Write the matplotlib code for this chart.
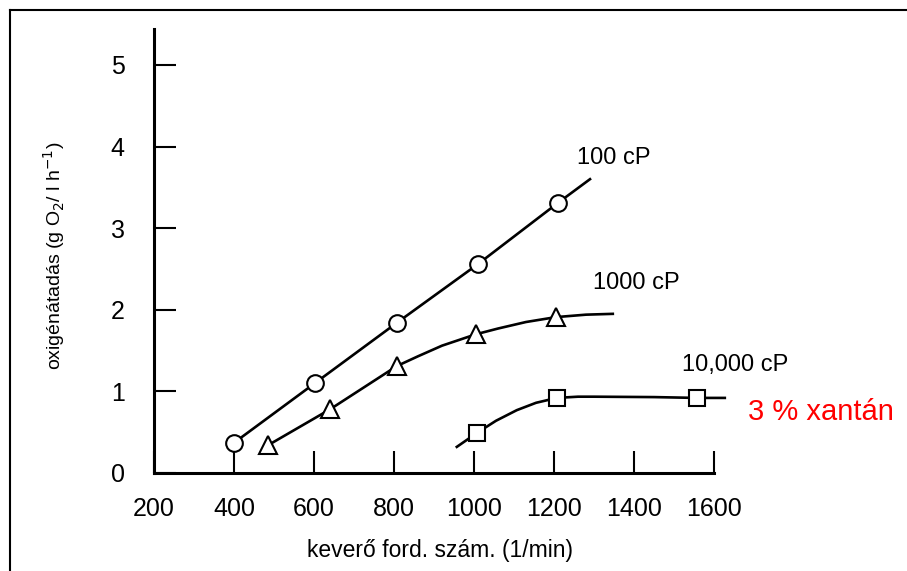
import matplotlib.pyplot as plt
from matplotlib.lines import Line2D

plt.rcParams['font.family'] = ['Liberation Sans', 'DejaVu Sans']

# measured points (keverő fordulatszám, oxigénátadás)
rpm_100 = [400, 602, 807, 1010, 1210]
otr_100 = [0.37, 1.10, 1.84, 2.56, 3.31]
line_rpm_100 = [400, 602, 807, 1010, 1210, 1290]
line_otr_100 = [0.37, 1.10, 1.84, 2.56, 3.31, 3.60]

rpm_1000 = [485, 640, 807, 1005, 1205]
otr_1000 = [0.34, 0.78, 1.31, 1.70, 1.91]
# hand-drawn curves
line_rpm_1000 = [485, 640, 807, 860, 920, 1005, 1060, 1130, 1205, 1280, 1347]
line_otr_1000 = [0.34, 0.78, 1.31, 1.43, 1.56, 1.70, 1.77, 1.85, 1.91, 1.94, 1.95]

rpm_10000 = [1007, 1207, 1557]
otr_10000 = [0.49, 0.92, 0.92]
line_rpm_10000 = [957, 1007, 1055, 1107, 1155, 1207, 1260, 1300, 1450, 1557, 1627]
line_otr_10000 = [0.32, 0.49, 0.64, 0.77, 0.86, 0.92, 0.935, 0.935, 0.93, 0.92, 0.92]

x_ticks = [200, 400, 600, 800, 1000, 1200, 1400, 1600]
y_ticks = [0, 1, 2, 3, 4, 5]

fig = plt.figure(figsize=(9.07, 5.71), dpi=100)
ax = fig.add_axes([154 / 907, 1 - 473 / 571, (714 - 154) / 907, (473 - 29) / 571])

lw = 1.9
ax.plot(line_rpm_100, line_otr_100, color='black', lw=lw, clip_on=False)
ax.plot(line_rpm_1000, line_otr_1000, color='black', lw=lw, clip_on=False)
ax.plot(line_rpm_10000, line_otr_10000, color='black', lw=lw, clip_on=False)

ax.plot(rpm_100, otr_100, 'o', ms=12, mfc='white', mec='black', mew=1.5, ls='none', zorder=5, clip_on=False)
ax.plot(rpm_1000, otr_1000, '^', ms=13, mfc='white', mec='black', mew=1.5, ls='none', zorder=5, clip_on=False)
ax.plot(rpm_10000, otr_10000, 's', ms=11, mfc='white', mec='black', mew=1.5, ls='none', zorder=5, clip_on=False)

ax.set_xlim(200, 1600)
ax.set_ylim(0, 5.44)
ax.set_xticks(x_ticks)
ax.set_yticks(y_ticks)
ax.tick_params(direction='in', length=16, width=1.5, labelsize=18)
ax.tick_params(axis='y', pad=21)
ax.tick_params(axis='x', pad=17)

for side in ['top', 'right']:
    ax.spines[side].set_visible(False)
for side in ['left', 'bottom']:
    ax.spines[side].set_linewidth(2.2)

ax.set_xlabel('keverő ford. szám. (1/min)', fontsize=16.5)
ax.xaxis.set_label_coords(0.511, -0.149)
ax.set_ylabel('oxigénátadás (g O$_2$/ l h$^{-1}$)', fontsize=14)
ax.yaxis.set_label_coords(-0.155, 0.49)

ax.text(1257, 3.86, '100 cP', fontsize=17, va='center')
ax.text(1297, 2.33, '1000 cP', fontsize=17, va='center')
ax.text(1520, 1.32, '10,000 cP', fontsize=17, va='center', clip_on=False)
ax.text(1685, 0.75, '3 % xantán', fontsize=21, color='red', va='center', clip_on=False)

# frame of the scanned picture (only top and left edges visible)
fig.add_artist(Line2D([10 / 907, 1], [1 - 10 / 571, 1 - 10 / 571], color='black', lw=1.5))
fig.add_artist(Line2D([10 / 907, 10 / 907], [0, 1 - 10 / 571], color='black', lw=1.5))

fig.savefig('out.png', dpi=100)
